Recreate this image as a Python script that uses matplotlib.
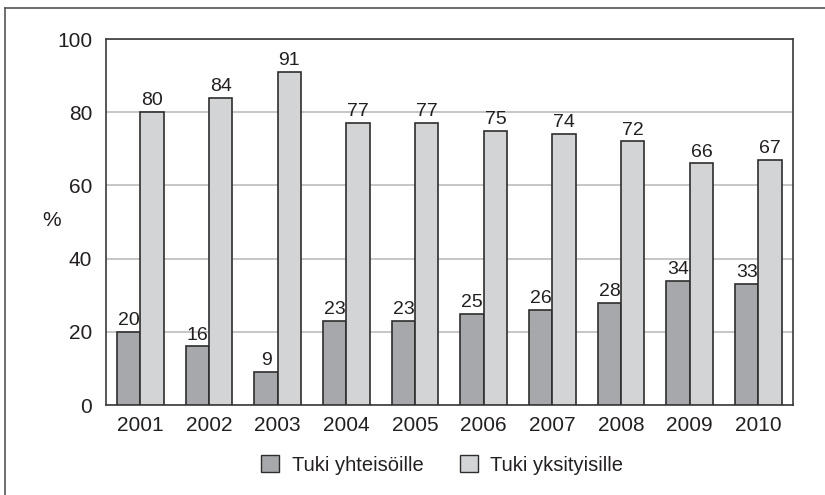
import matplotlib
matplotlib.use("Agg")
import matplotlib.pyplot as plt
import numpy as np
from matplotlib.lines import Line2D
from matplotlib.patches import Patch

years = ["2001", "2002", "2003", "2004", "2005", "2006", "2007", "2008", "2009", "2010"]
yhteisoille = [20, 16, 9, 23, 23, 25, 26, 28, 34, 33]
yksityisille = [80, 84, 91, 77, 77, 75, 74, 72, 66, 67]
series_names = ["Tuki yhteisöille", "Tuki yksityisille"]

DARK = "#a7a8ab"
LIGHT = "#d3d4d6"
EDGE = "#2e2e2e"
TEXT = "#231f20"

plt.rcParams["font.family"] = ["Liberation Sans", "DejaVu Sans"]

fig = plt.figure(figsize=(8.25, 4.95), dpi=100)
ax = fig.add_axes([0.1285, 0.1818, 0.8325, 0.7394])

x = np.arange(len(years))
w = 0.34
b1 = ax.bar(x - w / 2, yhteisoille, w, color=DARK, edgecolor=EDGE, linewidth=1.2, zorder=3)
b2 = ax.bar(x + w / 2, yksityisille, w, color=LIGHT, edgecolor=EDGE, linewidth=1.2, zorder=3)

for bars, vals in ((b1, yhteisoille), (b2, yksityisille)):
    for r, v in zip(bars, vals):
        ax.annotate(str(v), (r.get_x() + r.get_width() / 2, v), xytext=(0, 2),
                    textcoords="offset points", ha="center", va="bottom",
                    fontsize=14, color=TEXT)

ax.set_xlim(-0.5, len(years) - 0.5)
ax.set_ylim(0, 100)
ax.set_yticks([0, 20, 40, 60, 80, 100])
ax.set_xticks(x)
ax.set_xticklabels(years)
ax.tick_params(axis="both", length=0, labelsize=15, colors=TEXT, pad=8)
ax.tick_params(axis="y", pad=10)
ax.grid(axis="y", color="#bcbcbc", linewidth=1.2, zorder=0)
for s in ax.spines.values():
    s.set_color("#3a3a3a")
    s.set_linewidth(1.2)

fig.text(52 / 825, 1 - 220 / 495, "%", fontsize=15, color=TEXT, ha="center", va="center")

handles = [Patch(facecolor=DARK, edgecolor=EDGE, linewidth=1.0),
           Patch(facecolor=LIGHT, edgecolor=EDGE, linewidth=1.0)]
fig.legend(handles, series_names, loc="center", bbox_to_anchor=(442 / 825, 1 - 465 / 495),
           ncol=2, frameon=False, fontsize=14.5, handlelength=0.9, handleheight=0.9,
           columnspacing=1.8, handletextpad=0.6, labelcolor=TEXT)

# outer frame (left and top edges only)
fig.add_artist(Line2D([5 / 825, 5 / 825], [0, 1 - 8 / 495], transform=fig.transFigure,
                      color="#555555", linewidth=1.2))
fig.add_artist(Line2D([5 / 825, 1], [1 - 8 / 495, 1 - 8 / 495], transform=fig.transFigure,
                      color="#555555", linewidth=1.2))

fig.savefig("out.png", dpi=100)
